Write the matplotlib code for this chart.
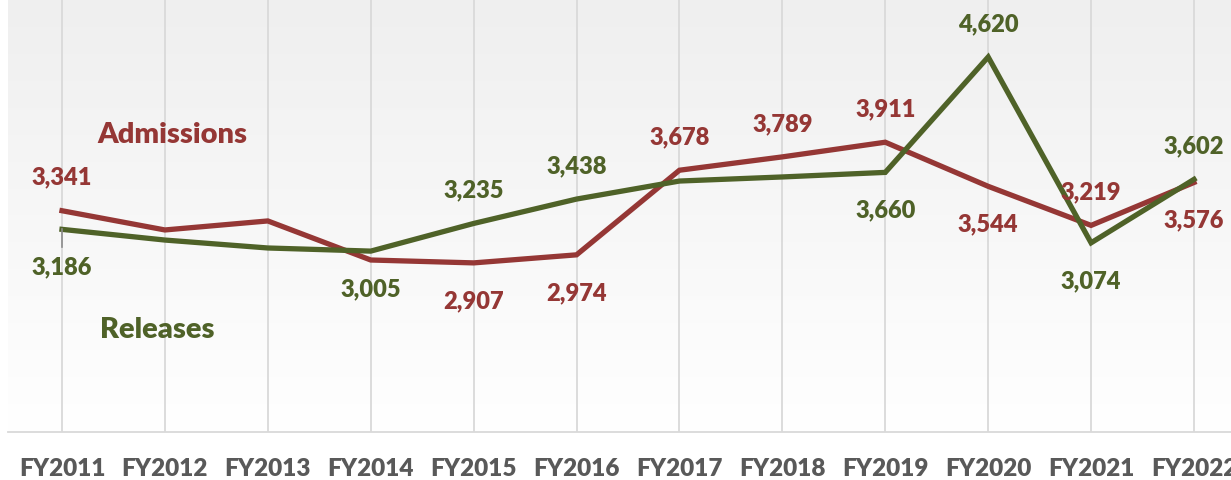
import matplotlib
matplotlib.use("Agg")
import matplotlib.pyplot as plt
import numpy as np
from matplotlib.colors import LinearSegmentedColormap

years = ["FY2011", "FY2012", "FY2013", "FY2014", "FY2015", "FY2016",
         "FY2017", "FY2018", "FY2019", "FY2020", "FY2021", "FY2022"]
admissions = [3341, 3181, 3256, 2931, 2907, 2974, 3678, 3789, 3911, 3544, 3219, 3576]
releases = [3186, 3097, 3031, 3005, 3235, 3438, 3588, 3622, 3660, 4620, 3074, 3602]

# label placement (style): index -> vertical offset direction (+1 above, -1 below)
adm_labels = {0: 1, 4: -1, 5: -1, 6: 1, 7: 1, 8: 1, 9: -1, 10: 1, 11: -1}
rel_labels = {0: -1, 3: -1, 4: 1, 5: 1, 8: -1, 9: 1, 10: -1, 11: 1}

RED = "#953735"
GREEN = "#4f6228"
TICK = "#595959"
FONT = "Lato"
WEIGHT = "heavy"

W, H = 1231, 481
fig = plt.figure(figsize=(W / 100, H / 100), dpi=100)
fig.patch.set_facecolor("white")
ax = fig.add_axes([8 / W, 1 - 433 / H, 1 - 8 / W, 433 / H])

x = np.arange(len(years))
ax.set_xlim(-(62 - 8) / 102.9, 11 + (1231 - 1194) / 102.9)
ax.set_ylim(1500, 4620 + 58 * 8.32)

# gradient background
grad = np.linspace(1, 0, 256).reshape(-1, 1)
cmap = LinearSegmentedColormap.from_list("bg", ["#ffffff", "#efefef"])
ax.imshow(grad, extent=[0, 1, 0, 1], transform=ax.transAxes, cmap=cmap,
          aspect="auto", zorder=0, vmin=0, vmax=1)

for xi in x:
    ax.axvline(xi, color="#d9d9d9", lw=1.3, zorder=1)

ax.plot(x, admissions, color=RED, lw=3.8, zorder=3, solid_joinstyle="miter")
ax.plot(x, releases, color=GREEN, lw=3.8, zorder=4, solid_joinstyle="miter")

# small leader line at first releases label
ax.plot([0, 0], [releases[0], releases[0] - 150], color="#8c8c8c", lw=1.2, zorder=5)

def label(vals, spec, color):
    for i, d in spec.items():
        dy = 34 if d > 0 else -37
        ax.annotate(f"{vals[i]:,}", (x[i], vals[i]), xytext=(0, dy),
                    textcoords="offset pixels", ha="center", va="center",
                    color=color, fontsize=17, fontweight=WEIGHT, family=FONT, zorder=6)

label(admissions, adm_labels, RED)
label(releases, rel_labels, GREEN)

ax.text((172 - 8) / (W - 8), (433 - 135) / 433, "Admissions", transform=ax.transAxes,
        color=RED, fontsize=21, fontweight=WEIGHT, family=FONT, ha="center", va="center")
ax.text((157 - 8) / (W - 8), (433 - 330) / 433, "Releases", transform=ax.transAxes,
        color=GREEN, fontsize=21, fontweight=WEIGHT, family=FONT, ha="center", va="center")

ax.set_xticks(x)
ax.set_xticklabels(years, fontsize=17.5, fontweight=WEIGHT, family=FONT, color=TICK)
ax.tick_params(axis="x", length=0, pad=18)
ax.set_yticks([])
for s in ["top", "left", "right"]:
    ax.spines[s].set_visible(False)
ax.spines["bottom"].set_color("#d9d9d9")
ax.spines["bottom"].set_linewidth(1.3)

fig.savefig("out.png", dpi=100)
